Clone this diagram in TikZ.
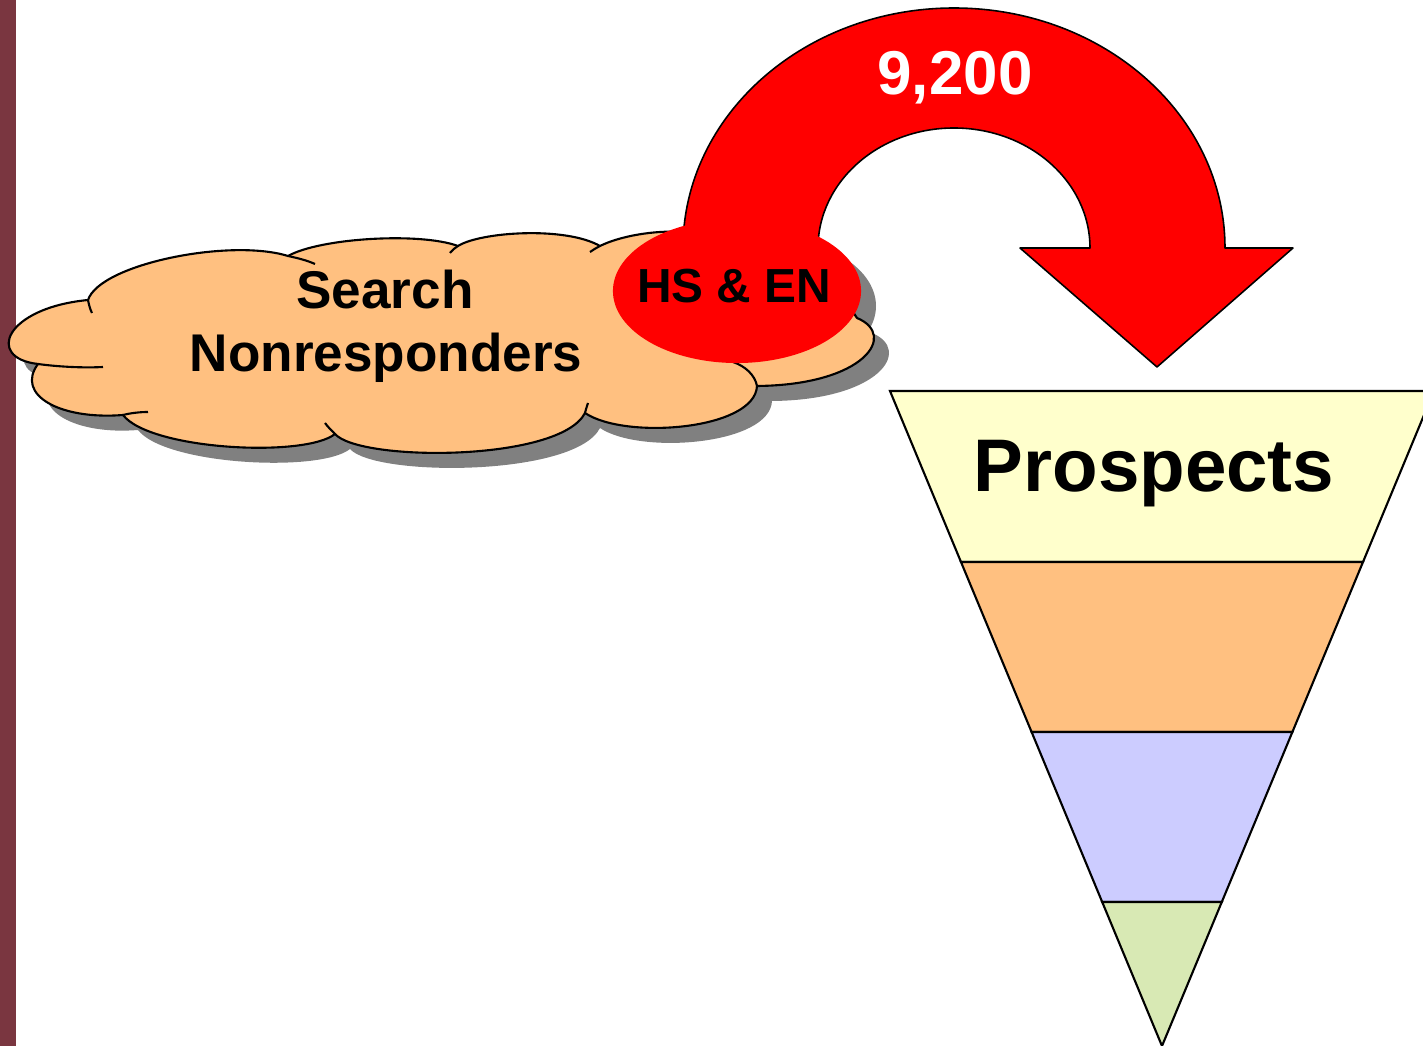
\documentclass[tikz,border=0pt]{standalone}
\usepackage{fontspec}
\setmainfont{Liberation Sans}
\usetikzlibrary{shapes.geometric}

\definecolor{barmaroon}{HTML}{7A3640}
\definecolor{cloudfill}{HTML}{FFC080}
\definecolor{shadowgray}{HTML}{808080}
\definecolor{bandyellow}{HTML}{FFFFCC}
\definecolor{bandorange}{HTML}{FFC080}
\definecolor{bandblue}{HTML}{CCCCFF}
\definecolor{bandgreen}{HTML}{D8E9B4}

% outer outline of the cloud (one unit = one pixel, y grows downwards)
\newcommand{\cloudoutline}{(88,300)
  .. controls (100,264) and (230,238) .. (288,256)
  .. controls (320,238) and (420,232) .. (458,246)
  .. controls (480,232) and (565,226) .. (600,246)
  .. controls (620,236) and (655,230) .. (683,232)
  -- (760,235) -- (845,300) -- (857,318)
  .. controls (898,335) and (865,385) .. (757,386)
  .. controls (755,430) and (625,440) .. (585,413)
  .. controls (560,462) and (360,462) .. (335,434)
  .. controls (305,458) and (150,450) .. (123,415)
  .. controls (60,420) and (15,395) .. (38,364)
  .. controls (-15,358) and (5,308) .. (88,300)}

\tikzset{
  cloudline/.style={draw=black, line width=0.6pt},
  arrowshape/.style={fill=red, draw=black, line width=0.45pt, line join=round},
  band/.style={draw=black, line width=0.6pt, line join=miter},
  boldtext/.style={inner sep=0pt, anchor=base, font=\bfseries},
}

\begin{document}
\begin{tikzpicture}[x=0.01cm, y=-0.01cm]
  \clip (0,0) rectangle (1423,1046);

  % side bar
  \fill[barmaroon] (0,0) rectangle (16,1046);

  % shadows
  \fill[shadowgray, shift={(15,15)}] \cloudoutline -- cycle;
  \fill[shadowgray] (752,306) ellipse[x radius=124, y radius=72];

  % cloud body
  \path[fill=cloudfill, cloudline, line join=round] \cloudoutline -- cycle;

  % inner strokes where the lobes overlap
  \draw[cloudline] (38,364) .. controls (60,367) and (85,368) .. (103,367);
  \draw[cloudline] (123,415) .. controls (131,413) and (140,412) .. (148,412);
  \draw[cloudline] (88,300) .. controls (89,305) and (90,309) .. (92,313);
  \draw[cloudline] (288,256) .. controls (297,258) and (306,260) .. (315,264);
  \draw[cloudline] (458,246) .. controls (455,248) and (452,250) .. (450,253);
  \draw[cloudline] (600,246) .. controls (596,248) and (593,250) .. (590,252);
  \draw[cloudline] (335,434) .. controls (331,430) and (328,427) .. (325,423);
  \draw[cloudline] (585,413) .. controls (586,409) and (587,406) .. (588,403);
  \draw[cloudline] (757,386) .. controls (755,375) and (745,366) .. (733,362);

  % curved arrow
  \draw[arrowshape] (818,262) -- (818,248)
    arc[start angle=180, end angle=360, x radius=136, y radius=120]
    -- (1020,248) -- (1157,367) -- (1293,248) -- (1225,248)
    arc[start angle=0, end angle=-180, x radius=271, y radius=240]
    -- (683,262) -- cycle;

  % red oval on the cloud
  \node[ellipse, fill=red, inner sep=0pt, minimum width=2.48cm, minimum height=1.44cm]
    (oval) at (737,291) {};

  % labels
  \node[boldtext, font=\bfseries\fontsize{15.1}{17}\selectfont] (srch) at (385,308.5) {Search};
  \node[boldtext, font=\bfseries\fontsize{15.1}{17}\selectfont] (nonr) at (386,372) {Nonresponders};
  \node[boldtext, font=\bfseries\fontsize{13.6}{16}\selectfont] (hsen) at (734,303) {HS \& EN};
  \node[boldtext, text=white, font=\bfseries\fontsize{17.6}{20}\selectfont] (count) at (955,95) {9,200};

  % funnel
  \draw[band, fill=bandyellow] (890,391) -- (1434,391) -- (1363,562) -- (961,562) -- cycle;
  \draw[band, fill=bandorange] (961,562) -- (1363,562) -- (1292.4,732) -- (1031.6,732) -- cycle;
  \draw[band, fill=bandblue] (1031.6,732) -- (1292.4,732) -- (1221.8,902) -- (1102.2,902) -- cycle;
  \draw[band, fill=bandgreen] (1102.2,902) -- (1221.8,902) -- (1162,1046) -- cycle;

  \node[boldtext, font=\bfseries\fontsize{21.2}{24}\selectfont] (prosp) at (1154,492) {Prospects};
\end{tikzpicture}
\end{document}
